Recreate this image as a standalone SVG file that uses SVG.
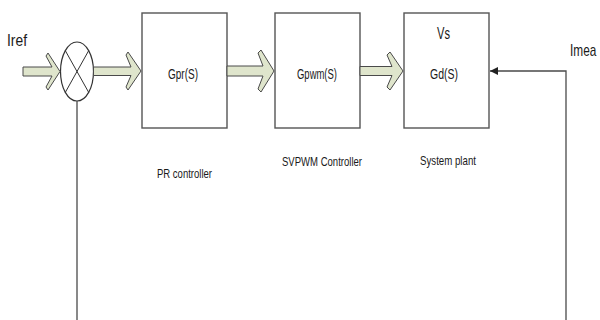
<svg xmlns="http://www.w3.org/2000/svg" width="600" height="320" viewBox="0 0 600 320">
  <style>
    .box { fill: #ffffff; stroke: #555555; stroke-width: 1.4; }
    .flow { fill: #dfe5cc; stroke: #4a4a4a; stroke-width: 1; stroke-linejoin: miter; }
    .wire { fill: none; stroke: #4a4a4a; stroke-width: 1.3; }
    .sum { fill: #ffffff; stroke: #333333; stroke-width: 1.2; }
    .t { font-family: "Liberation Sans Narrow", "Liberation Sans", Arial, sans-serif; fill: #1a1a1a; }
  </style>
  <defs>
    <marker id="head" viewBox="0 0 10 10" refX="10" refY="5" markerWidth="8" markerHeight="8" markerUnits="userSpaceOnUse" orient="auto">
      <path d="M0,0 L10,5 L0,10 Z" fill="#222222"/>
    </marker>
  </defs>

  <rect x="0" y="0" width="600" height="320" fill="#ffffff"/>

  <!-- input label -->
  <text class="t" x="7" y="46" font-size="16" textLength="20" lengthAdjust="spacingAndGlyphs">Iref</text>

  <!-- summing junction -->
  <g id="sum">
    <ellipse class="sum" cx="77" cy="71.5" rx="16.5" ry="29.5"/>
    <line x1="65.3" y1="50.6" x2="88.7" y2="92.4" stroke="#333" stroke-width="1"/>
    <line x1="88.7" y1="50.6" x2="65.3" y2="92.4" stroke="#333" stroke-width="1"/>
  </g>

  <g id="pr">
    <rect class="box" x="142" y="13" width="85" height="115"/>
    <text class="t" x="168" y="78.5" font-size="14" textLength="30" lengthAdjust="spacingAndGlyphs">Gpr(S)</text>
    <text class="t" x="157" y="178" font-size="13" textLength="55" lengthAdjust="spacingAndGlyphs">PR controller</text>
  </g>

  <g id="svpwm">
    <rect class="box" x="275" y="13" width="85" height="115"/>
    <text class="t" x="297" y="78.5" font-size="14" textLength="40" lengthAdjust="spacingAndGlyphs">Gpwm(S)</text>
    <text class="t" x="282" y="166" font-size="13" textLength="80" lengthAdjust="spacingAndGlyphs">SVPWM Controller</text>
  </g>

  <g id="plant">
    <rect class="box" x="404" y="13" width="85" height="115"/>
    <text class="t" x="437" y="39" font-size="17" textLength="13" lengthAdjust="spacingAndGlyphs">Vs</text>
    <text class="t" x="430" y="78.5" font-size="14" textLength="28" lengthAdjust="spacingAndGlyphs">Gd(S)</text>
    <text class="t" x="420" y="165" font-size="13" textLength="56" lengthAdjust="spacingAndGlyphs">System plant</text>
  </g>

  <!-- measured output label, horizontally condensed -->
  <text class="t" transform="translate(570,56) scale(0.74,1)" font-size="16">Imea</text>

  <g id="connectors">
    <!-- block arrows along the forward path -->
    <polygon class="flow" points="23,67 52,67 46,56 48,53 60,71.5 48,90 46,87 52,76 23,76"/>
    <polygon class="flow" points="93.5,67 131,67 126,55 128,52 141,71 128,90 126,87 131,75.5 93.5,75.5"/>
    <polygon class="flow" points="227,66 263,66 258,53 261,50 274,71 261,92 258,89 263,76 227,76"/>
    <polygon class="flow" points="360,66.5 392,66.5 387,55 390,52 403,71 390,90 387,87 392,75.5 360,75.5"/>

    <!-- feedback paths -->
    <polyline class="wire" points="566,320 566,71 490,71" marker-end="url(#head)"/>
    <line class="wire" x1="77" y1="101" x2="77" y2="320"/>
  </g>
</svg>
